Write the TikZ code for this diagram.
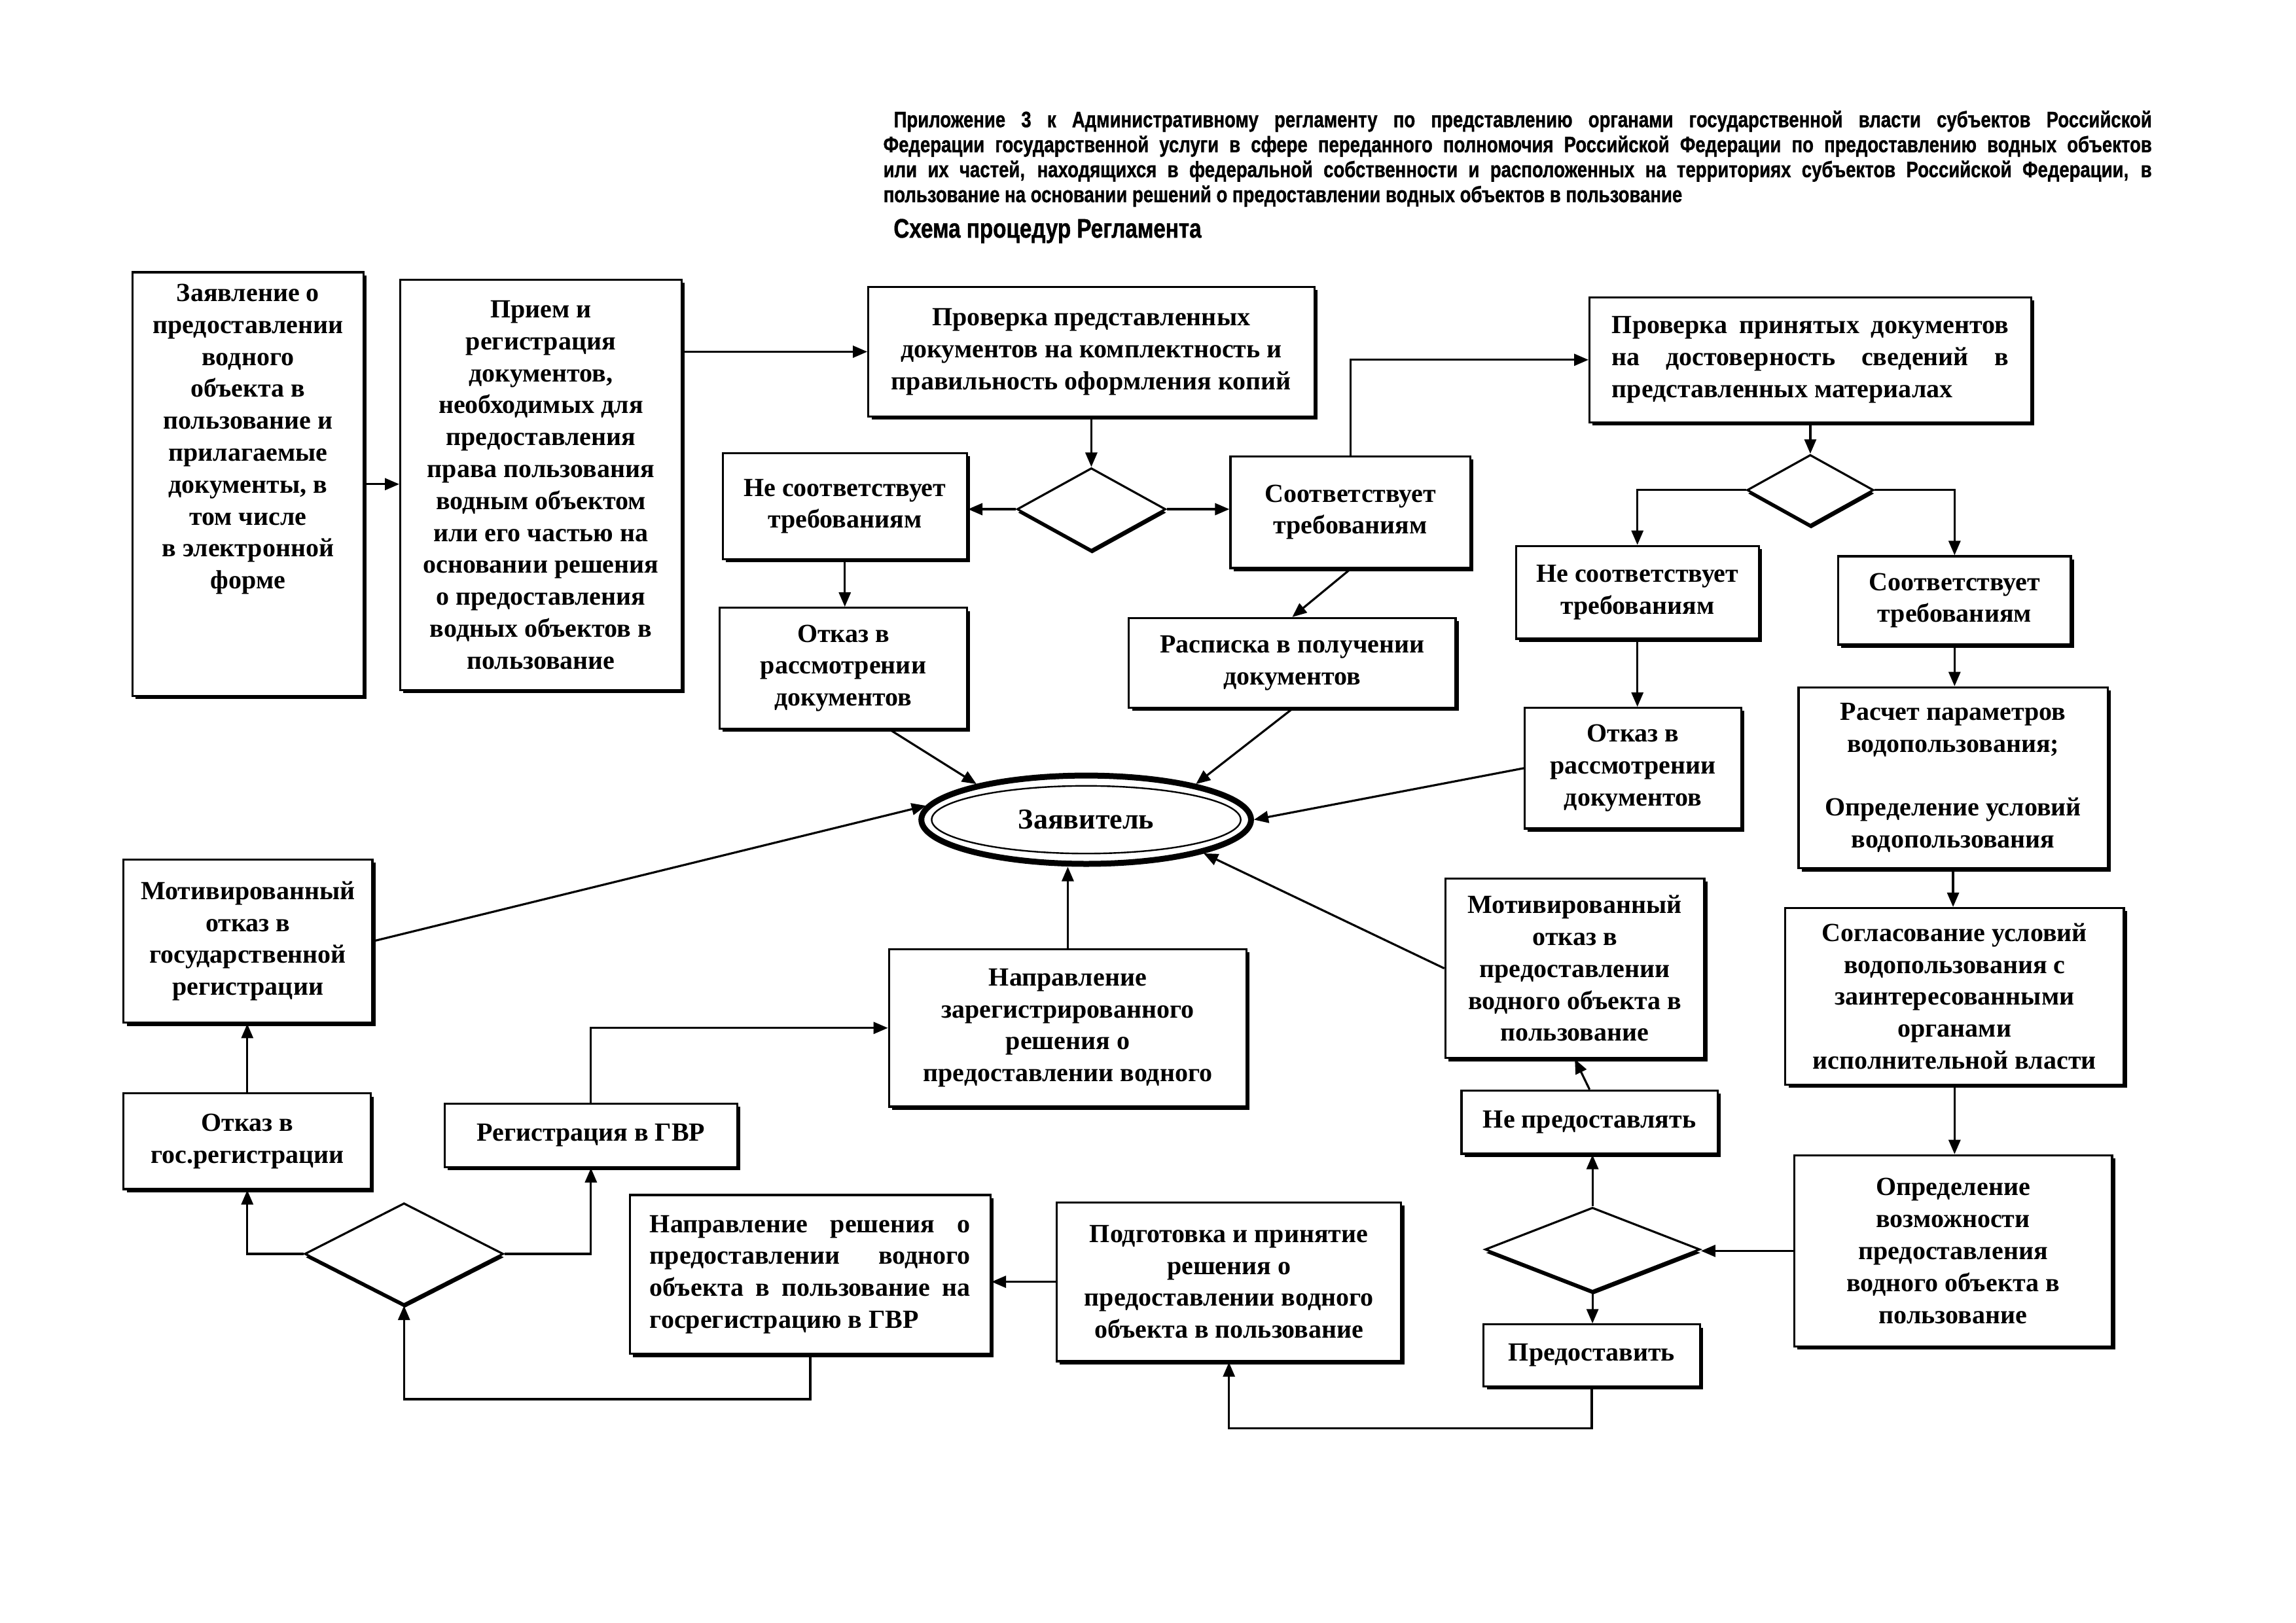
\documentclass[tikz,border=0pt]{standalone}
\usepackage{fontspec}
\setmainfont{Liberation Serif}
\newfontfamily\hdrfont{Liberation Sans Bold}[FakeStretch=0.81, FakeBold=1]
\usetikzlibrary{arrows.meta,shapes.geometric,shadows}
\newdimen\uu \uu=1.12436pt
\newcommand\flowbox[7][]{\node[box,#1,minimum width={(#5-#3)*\uu},minimum height={(#6-#4)*\uu}] (#2) at ({(#3+#5)/2},{(#4+#6)/2}) {#7};}
\begin{document}
\begin{tikzpicture}[x=1.12436pt,y=-1.12436pt,
  box/.style={draw, line width=1.6pt, fill=white, inner sep=2pt, align=center,
    font=\bfseries\fontsize{20}{24.4}\selectfont,
    drop shadow={shadow xshift=2.4pt, shadow yshift=-2.4pt, fill=black, opacity=1}},
  dec/.style={diamond, draw, line width=1.6pt, fill=white, inner sep=0pt,
    drop shadow={shadow xshift=0.6pt, shadow yshift=-2.6pt, fill=black, opacity=1}},
  arr/.style={line width=1.6pt, -{Triangle[length=11pt,width=9pt]}},
  ln/.style={line width=1.6pt}]
\useasboundingbox (0,0) rectangle (1560,1102.8);
\fill[white] (0,0) rectangle (1560,1102.8);

% header
\node[anchor=north west, inner sep=0pt, align=left,
  font=\hdrfont\fontsize{17}{19.1}\selectfont] (hdr) at (600,75)
 {\makebox[969pt][s]{\hspace*{8pt}Приложение 3 к Административному регламенту по представлению органами государственной власти субъектов Российской}\\
  \makebox[969pt][s]{Федерации государственной услуги в сфере переданного полномочия Российской Федерации по предоставлению водных объектов}\\
  \makebox[969pt][s]{или их частей, находящихся в федеральной собственности и расположенных на территориях субъектов Российской Федерации, в}\\
  пользование на основании решений о предоставлении водных объектов в пользование};
\node[anchor=west, inner sep=0pt, font=\hdrfont\fontsize{20.5}{22}\selectfont] (hdr2) at (607,157) {Схема процедур Регламента};

% boxes
\flowbox{A}{90}{185}{247}{473}{\parbox[c][\dimexpr 272\uu\relax][t]{\dimexpr 150\uu\relax}{\centering Заявление о\\предоставлении\\водного\\объекта в\\пользование и\\прилагаемые\\документы, в\\том числе\\в электронной\\форме}}
\flowbox{B}{272}{190}{463}{469}{Прием и\\регистрация\\документов,\\необходимых для\\предоставления\\права пользования\\водным объектом\\или его частью на\\основании решения\\о предоставления\\водных объектов в\\пользование}
\flowbox{C}{590}{195}{893}{283}{Проверка представленных\\документов на комплектность и\\правильность оформления копий}
\flowbox{E}{491}{308}{657}{380}{Не соответствует\\требованиям}
\flowbox{F}{836}{310}{999}{386}{Соответствует\\требованиям}
\flowbox[text width=303pt, align=justify]{G}{1080}{202}{1380}{287}{Проверка принятых документов\linebreak на достоверность сведений в\linebreak представленных материалах}
\flowbox{H}{1030}{371}{1195}{434}{Не соответствует\\требованиям}
\flowbox{I}{1249}{378}{1407}{438}{Соответствует\\требованиям}
\flowbox{J}{489}{413}{657}{495}{Отказ в\\рассмотрении\\документов}
\flowbox{K}{767}{420}{989}{481}{Расписка в получении\\документов}
\flowbox{L}{1036}{481}{1183}{563}{Отказ в\\рассмотрении\\документов}
\flowbox{M}{1222}{467}{1432}{590}{Расчет параметров\\водопользования;\\[24.4pt]Определение условий\\водопользования}
\flowbox{N}{1213}{617}{1443}{737}{Согласование условий\\водопользования с\\заинтересованными\\органами\\исполнительной власти}
\flowbox{O}{1219}{785}{1435}{915}{Определение\\возможности\\предоставления\\водного объекта в\\пользование}
\flowbox{P}{993}{741}{1167}{784}{Не предоставлять}
\flowbox{Q}{982}{597}{1158}{719}{Мотивированный\\отказ в\\предоставлении\\водного объекта в\\пользование}
\flowbox{R}{1008}{900}{1155}{942}{Предоставить}
\flowbox{S}{718}{817}{952}{925}{Подготовка и принятие\\решения о\\предоставлении водного\\объекта в пользование}
\flowbox[text width=245pt, align=justify]{T}{428}{812}{673}{920}{Направление решения о\linebreak предоставлении водного\linebreak объекта в пользование на\linebreak госрегистрацию в ГВР}
\flowbox{U}{84}{743}{252}{808}{Отказ в\\гос.регистрации}
\flowbox{V}{84}{584}{253}{695}{Мотивированный\\отказ в\\государственной\\регистрации}
\flowbox{W}{302}{750}{501}{793}{Регистрация в ГВР}
\flowbox{X}{604}{645}{847}{752}{Направление\\зарегистрированного\\решения о\\предоставлении водного}

% decisions
\node[dec, minimum width=101*\uu, minimum height=56*\uu] (D1) at (741.5,346) {};
\node[dec, minimum width=86*\uu, minimum height=48*\uu] (D2) at (1230,333) {};
\node[dec, minimum width=146*\uu, minimum height=57*\uu] (D3) at (1082,849) {};
\node[dec, minimum width=135*\uu, minimum height=69*\uu] (D4) at (274.5,852) {};

% applicant
\node[ellipse, draw, line width=4.5pt, fill=white, minimum width=224*\uu, minimum height=60*\uu, inner sep=0pt,
  font=\bfseries\fontsize{22}{26}\selectfont] (zay) at (738,557) {Заявитель};
\draw[line width=1.2pt] (zay.center) ellipse [x radius=105, y radius=23];

% connectors
\draw[arr] (A.east) -- (A.east -| B.west);
\draw[arr] (B.east |- C.west) -- (C.west);
\draw[arr] (C.south) -- (D1.north);
\draw[arr] (D1.west) -- (D1.west -| E.east);
\draw[arr] (D1.east) -- (D1.east -| F.west);
\draw[arr] (F.north) |- (G.west);
\draw[arr] (G.south) -- (D2.north);
\draw[arr] (D2.west) -| (H.north);
\draw[arr] (D2.east) -| (I.north);
\draw[arr] (E.south) -- (E.south |- J.north);
\draw[arr] (F.south) -- (K.north);
\draw[arr] (H.south) -- (H.south |- L.north);
\draw[arr] (I.south) -- (I.south |- M.north);
\draw[arr] (M.south) -- (M.south |- N.north);
\draw[arr] (N.south) -- (N.south |- O.north);
\draw[arr] (O.west) -- (O.west -| D3.east);
\draw[arr] (D3.north) -- (D3.north |- P.south);
\draw[arr] (P.north) -- (Q.south);
\draw[arr] (D3.south) -- (D3.south |- R.north);
\draw[arr] (R.south) -- ++(0,28) -| (S.south);
\draw[arr] (S.west) -- (S.west -| T.east);
\draw[arr] (T.south) -- ++(0,30) -| (D4.south);
\draw[arr] (D4.west) -| (U.south);
\draw[arr] (U.north) -- (U.north |- V.south);
\draw[arr] (D4.east) -| (W.south);
\draw[arr] (W.north) |- (X.west);
\draw[arr] (X.north) -- (X.north |- zay.south);
\draw[arr] (J.-53) -- (zay.162);
\draw[arr] (K.south) -- (zay.18);
\draw[arr] (L.west) -- (zay.east);
\draw[arr] (Q.west) -- (zay.-16);
\draw[arr] (V.east) -- (zay.175);
\end{tikzpicture}
\end{document}
